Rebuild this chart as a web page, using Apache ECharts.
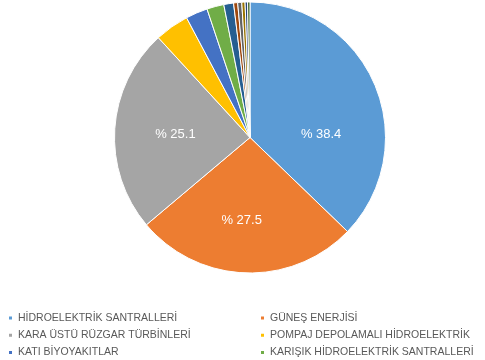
<!DOCTYPE html>
<html>
<head>
<meta charset="utf-8">
<script src="https://cdn.jsdelivr.net/npm/echarts@6/dist/echarts.min.js"></script>
<style>
html,body{margin:0;padding:0;background:#fff;}
#chart{width:485px;height:360px;}
</style>
</head>
<body>
<div id="chart"></div>
<script>
// Data (slices in clockwise order from 12 o'clock)
const categories = [
  'HİDROELEKTRİK SANTRALLERİ',
  'GÜNEŞ ENERJİSİ',
  'KARA ÜSTÜ RÜZGAR TÜRBİNLERİ',
  'POMPAJ DEPOLAMALI HİDROELEKTRİK',
  'KATI BİYOYAKITLAR',
  'KARIŞIK HİDROELEKTRİK SANTRALLERİ',
  'JEOTERMAL',
  'BİYOGAZ',
  'YENİLENEBİLİR ATIK',
  'DENİZ ÜSTÜ RÜZGAR TÜRBİNLERİ',
  'SIVI BİYOYAKITLAR',
  'DİĞER'
];
const values = [38.4, 27.5, 25.1, 4.2, 2.7, 2.1, 1.2, 0.5, 0.5, 0.4, 0.3, 0.3];
const showLabel = [true, true, true, false, false, false, false, false, false, false, false, false];
const colors = ['#5B9BD5', '#ED7D31', '#A5A5A5', '#FFC000', '#4472C4', '#70AD47',
                '#255E91', '#9E480E', '#636363', '#997300', '#264478', '#43682B'];
const legendLeftCol = [categories[0], categories[2], categories[4]];
const legendRightCol = [categories[1], categories[3], categories[5]];

// label nudges (style only) to mimic the original's label placement
const labelShift = [[6, 25], [-6, 12], [-4, 1]];

const chart = echarts.init(document.getElementById('chart'), null, {renderer: 'canvas'});

const legendCommon = {
  type: 'plain',
  orient: 'vertical',
  icon: 'rect',
  itemWidth: 5,
  itemHeight: 5,
  itemGap: 5.3,
  top: 312,
  height: 80,
  padding: 0,
  selectedMode: false,
  textStyle: {
    fontFamily: 'Liberation Sans',
    fontSize: 10.5,
    color: '#595959',
    lineHeight: 12
  }
};

chart.setOption({
  animation: false,
  backgroundColor: '#ffffff',
  legend: [
    Object.assign({}, legendCommon, {left: 7, data: legendLeftCol}),
    Object.assign({}, legendCommon, {left: 259, data: legendRightCol})
  ],
  series: [{
    type: 'pie',
    center: [250, 137.5],
    radius: [0, 135.5],
    startAngle: 90,
    clockwise: true,
    avoidLabelOverlap: false,
    labelLine: {show: false},
    itemStyle: {borderColor: '#ffffff', borderWidth: 1},
    emphasis: {disabled: true},
    label: {
      show: true,
      position: 'inside',
      color: '#ffffff',
      fontFamily: 'Liberation Sans',
      fontSize: 13,
      formatter: function (p) { return '% ' + p.value.toFixed(1); }
    },
    labelLayout: function (p) {
      const s = labelShift[p.dataIndex];
      if (!s) return {};
      return {dx: s[0], dy: s[1]};
    },
    data: categories.map(function (name, i) {
      return {
        name: name,
        value: values[i],
        itemStyle: {color: colors[i]},
        label: {show: showLabel[i]}
      };
    })
  }]
});
</script>
</body>
</html>
